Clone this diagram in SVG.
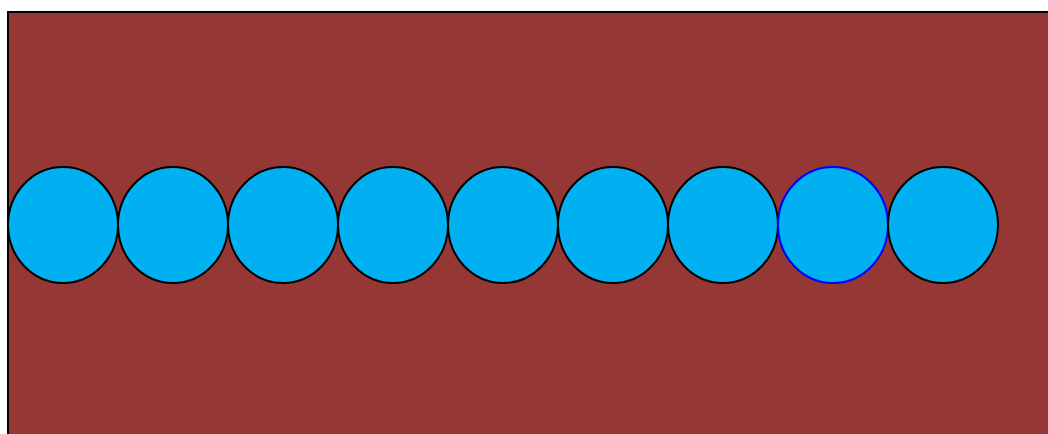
<svg xmlns="http://www.w3.org/2000/svg" width="1048" height="434" viewBox="0 0 1048 434">
<style>
.bg{fill:#953735;stroke:#000;stroke-width:2}
.c{fill:#00B0F0;stroke:#000;stroke-width:2}
.sel{stroke:#0000FF}
</style>
<rect width="1048" height="434" fill="#fff"/>
<rect class="bg" x="8" y="12" width="1060" height="440"/>
<g id="n1"><ellipse class="c" cx="63" cy="225" rx="55" ry="58"/></g>
<g id="n2"><ellipse class="c" cx="173" cy="225" rx="55" ry="58"/></g>
<g id="n3"><ellipse class="c" cx="283" cy="225" rx="55" ry="58"/></g>
<g id="n4"><ellipse class="c" cx="393" cy="225" rx="55" ry="58"/></g>
<g id="n5"><ellipse class="c" cx="503" cy="225" rx="55" ry="58"/></g>
<g id="n6"><ellipse class="c" cx="613" cy="225" rx="55" ry="58"/></g>
<g id="n7"><ellipse class="c" cx="723" cy="225" rx="55" ry="58"/></g>
<g id="n8"><ellipse class="c sel" cx="833" cy="225" rx="55" ry="58"/></g>
<g id="n9"><ellipse class="c" cx="943" cy="225" rx="55" ry="58"/></g>
<g id="connectors"></g>
</svg>
